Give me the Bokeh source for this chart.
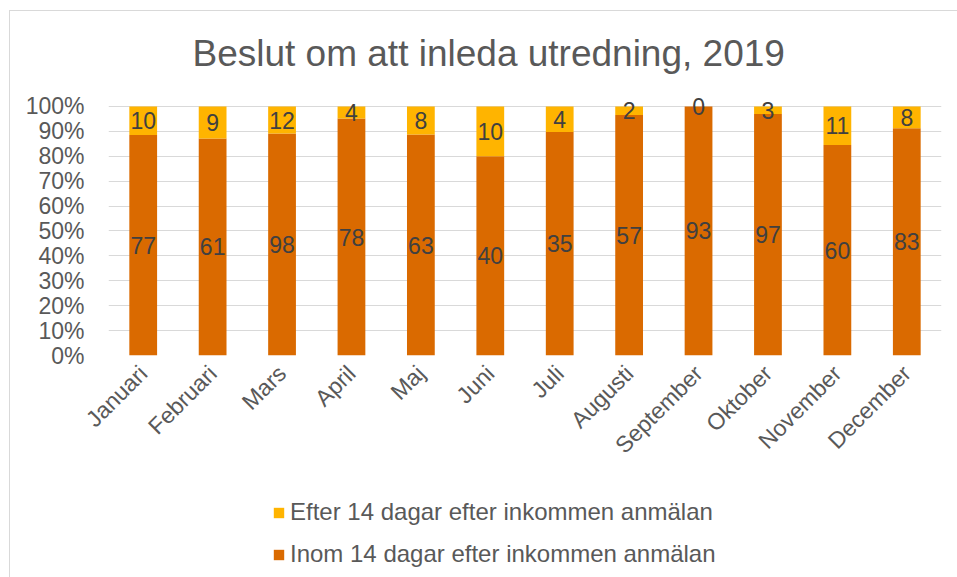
import math
from bokeh.plotting import figure
from bokeh.layouts import column
from bokeh.models import (ColumnDataSource, FactorRange, FixedTicker, NumeralTickFormatter,
                          Legend, LegendItem, Range1d)
from bokeh.embed import file_html
from bokeh.resources import INLINE

months = ["Januari", "Februari", "Mars", "April", "Maj", "Juni", "Juli",
          "Augusti", "September", "Oktober", "November", "December"]
inom = [77, 61, 98, 78, 63, 40, 35, 57, 93, 97, 60, 83]
efter = [10, 9, 12, 4, 8, 10, 4, 2, 0, 3, 11, 8]
y_ticks = [0, 0.1, 0.2, 0.3, 0.4, 0.5, 0.6, 0.7, 0.8, 0.9, 1.0]

title_text = "Beslut om att inleda utredning, 2019"
label_efter = "Efter 14 dagar efter inkommen anmälan"
label_inom = "Inom 14 dagar efter inkommen anmälan"

ORANGE = "#DA6A00"
YELLOW = "#FFB400"
FONT = "Liberation Sans"
GREY = "#595959"

totals = [a + b for a, b in zip(inom, efter)]
inom_f = [a / t for a, t in zip(inom, totals)]
efter_f = [b / t for b, t in zip(efter, totals)]
src = ColumnDataSource(dict(
    month=months,
    inom_f=inom_f,
    efter_f=efter_f,
    top=[1.0] * len(months),
    zero=[0.0] * len(months),
    inom_mid=[f / 2 for f in inom_f],
    efter_mid=[f + e / 2 for f, e in zip(inom_f, efter_f)],
    inom_txt=[str(v) for v in inom],
    efter_txt=[str(v) for v in efter],
))

p = figure(x_range=FactorRange(*months, range_padding=0), y_range=Range1d(0, 1.06),
           width=947, height=459, output_backend="svg", toolbar_location=None,
           min_border_left=98, min_border_right=16, min_border_top=80, min_border_bottom=115)

p.title.text = title_text
p.title.align = "left"
p.title.offset = 84
p.title.text_font = FONT
p.title.text_font_size = "37px"
p.title.text_font_style = "normal"
p.title.text_color = GREY
p.title.standoff = 36

r_inom = p.vbar(x="month", bottom="zero", top="inom_f", width=0.4, source=src,
                fill_color=ORANGE, line_color=None)
r_efter = p.vbar(x="month", bottom="inom_f", top="top", width=0.4, source=src,
                 fill_color=YELLOW, line_color=None)

p.text(x="month", y="inom_mid", text="inom_txt", source=src, text_align="center",
       text_baseline="middle", text_font_size="23px", text_color="#404040",
       text_font={"value": FONT})
p.text(x="month", y="efter_mid", text="efter_txt", source=src, text_align="center",
       text_baseline="middle", text_font_size="23px", text_color="#404040",
       text_font={"value": FONT})

p.yaxis.ticker = FixedTicker(ticks=y_ticks)
p.yaxis.formatter = NumeralTickFormatter(format="0%")
for ax in (p.xaxis[0], p.yaxis[0]):
    ax.axis_line_color = None
    ax.major_tick_line_color = None
    ax.minor_tick_line_color = None
    ax.major_label_text_font = FONT
    ax.major_label_text_font_size = "23px"
    ax.major_label_text_color = GREY
p.xaxis.major_label_orientation = math.pi / 4
p.xaxis.major_label_standoff = 8
p.yaxis.major_label_standoff = 18

p.xgrid.grid_line_color = None
p.ygrid.grid_line_color = "#d9d9d9"
p.ygrid.grid_line_width = 1
p.outline_line_color = None

# legend panel (swatch renderers sit outside the visible range; only their legend glyphs show)
p2 = figure(width=947, height=107, output_backend="svg", toolbar_location=None,
            x_range=Range1d(0, 1), y_range=Range1d(0, 1),
            min_border_left=0, min_border_right=0, min_border_top=0, min_border_bottom=0)
p2.axis.visible = False
p2.grid.grid_line_color = None
p2.outline_line_color = None
swatch = ColumnDataSource(dict(x=[-5], b=[-5], t=[-4]))
lr_efter = p2.vbar(x="x", bottom="b", top="t", width=0.1, source=swatch,
                   fill_color=YELLOW, line_color=None)
lr_inom = p2.vbar(x="x", bottom="b", top="t", width=0.1, source=swatch,
                  fill_color=ORANGE, line_color=None)

legend = Legend(items=[LegendItem(label=label_efter, renderers=[lr_efter]),
                       LegendItem(label=label_inom, renderers=[lr_inom])],
                location=(164, 9), orientation="vertical",
                label_text_font=FONT, label_text_font_size="24px", label_text_color=GREY,
                glyph_width=13, glyph_height=13, label_standoff=5, spacing=14,
                padding=0, margin=0, border_line_color=None, background_fill_alpha=0)
p2.add_layout(legend, "center")

layout = column(p, p2, spacing=0)
layout.styles = {"margin-left": "9px", "margin-top": "10px",
                 "border-left": "1px solid #d9d9d9", "border-top": "1px solid #d9d9d9"}

open("out.html", "w").write(file_html(layout, INLINE))
